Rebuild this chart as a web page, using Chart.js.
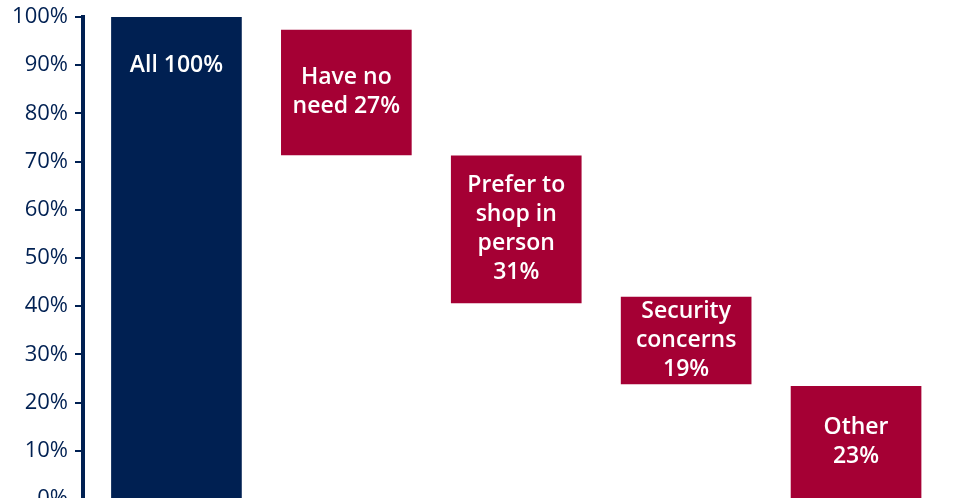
<!DOCTYPE html>
<html>
<head>
<meta charset="utf-8">
<script src="https://cdn.jsdelivr.net/npm/chart.js@4.4.1/dist/chart.umd.min.js"></script>
<style>
  body { margin: 0; background: #fff; overflow: hidden; }
  #wrap { width: 967px; height: 510px; position: relative; }
</style>
</head>
<body>
<div id="wrap"><canvas id="chart"></canvas></div>
<script>
const categories = ['All', 'Have no need', 'Prefer to shop in person', 'Security concerns', 'Other'];
const barLabels = [
  ['All 100%'],
  ['Have no', 'need 27%'],
  ['Prefer to', 'shop in', 'person', '31%'],
  ['Security', 'concerns', '19%'],
  ['Other', '23%']
];
const barStart = [0, 71.4, 40.7, 23.9, 0];
const barEnd = [100, 97.3, 71.2, 41.9, 23.4];
const yTicks = [0, 10, 20, 30, 40, 50, 60, 70, 80, 90, 100];

const navy = '#002052';
const crimson = '#a50034';

const barText = {
  id: 'barText',
  afterDatasetsDraw(chart) {
    const ctx = chart.ctx;
    const meta = chart.getDatasetMeta(0);
    ctx.save();
    ctx.fillStyle = '#fff';
    ctx.font = '600 23px "Open Sans"';
    ctx.textAlign = 'center';
    ctx.textBaseline = 'middle';
    meta.data.forEach((bar, i) => {
      const lines = barLabels[i];
      const top = Math.min(bar.y, bar.base);
      const bottom = Math.max(bar.y, bar.base);
      let cy = (top + bottom) / 2;
      if (bottom - top > 300) cy = top + 48;
      const lh = 29;
      const y0 = cy - (lines.length - 1) * lh / 2;
      lines.forEach((l, j) => ctx.fillText(l, bar.x, y0 + j * lh));
    });
    ctx.restore();
  }
};

new Chart(document.getElementById('chart'), {
  type: 'bar',
  data: {
    datasets: [{
      data: categories.map((c, i) => ({ x: i, y: [barStart[i], barEnd[i]] })),
      backgroundColor: categories.map((c, i) => i === 0 ? navy : crimson),
      barThickness: 130,
      borderWidth: 0
    }]
  },
  options: {
    responsive: true,
    maintainAspectRatio: false,
    animation: false,
    layout: { padding: { top: 17, right: 26, bottom: 11, left: 0 } },
    plugins: { legend: { display: false }, tooltip: { enabled: false } },
    scales: {
      x: {
        type: 'linear',
        min: -0.55,
        max: 4.5,
        offset: false,
        display: false
      },
      y: {
        min: 0,
        max: 100,
        afterFit(scale) {
          scale.width = 83;
          scale.paddingTop = 0;
          scale.paddingBottom = 0;
        },
        afterBuildTicks(scale) { scale.ticks = yTicks.map(v => ({ value: v })); },
        border: { display: true, color: navy, width: 4 },
        grid: { drawOnChartArea: false, color: navy, lineWidth: 2, tickLength: 8 },
        ticks: {
          color: navy,
          padding: 7,
          font: { family: 'Open Sans', size: 22 },
          callback: v => v + '%'
        }
      }
    }
  },
  plugins: [barText]
});
</script>
</body>
</html>
